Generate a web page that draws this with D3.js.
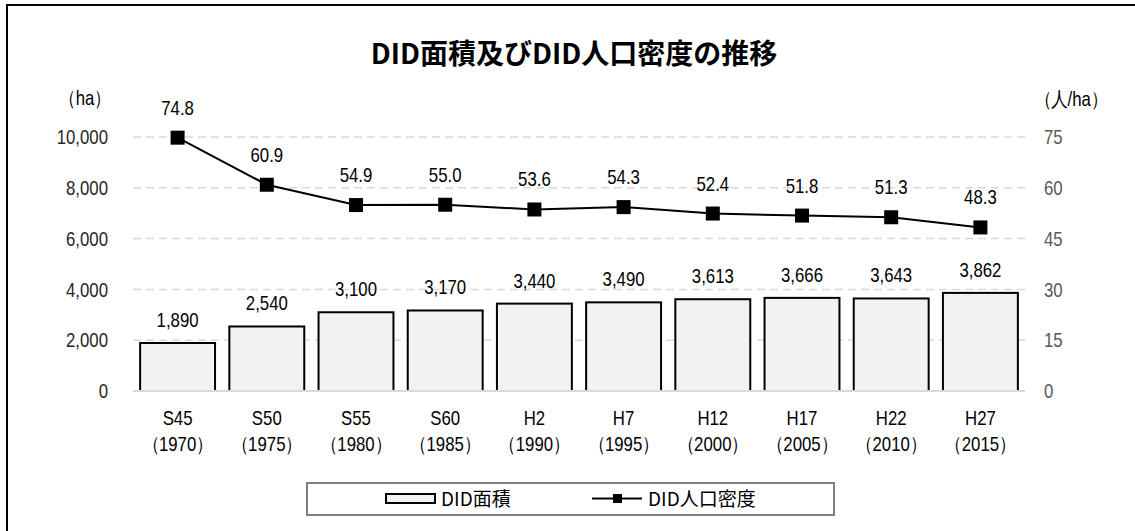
<!DOCTYPE html>
<html>
<head>
<meta charset="utf-8">
<script src="https://cdn.jsdelivr.net/npm/d3@7"></script>
<style>
  body { margin: 0; background: #fff; }
  svg { display: block; }
  .num { font-family: "Liberation Sans", Arial, sans-serif; }
  .jp { font-family: "Noto Sans CJK JP", sans-serif; }
</style>
</head>
<body>
<svg id="chart" width="1135" height="531"></svg>
<script>
'use strict';

// --- data ---
const eras = ['S45', 'S50', 'S55', 'S60', 'H2', 'H7', 'H12', 'H17', 'H22', 'H27'];
const years = ['1970', '1975', '1980', '1985', '1990', '1995', '2000', '2005', '2010', '2015'];
const areaValues = [1890, 2540, 3100, 3170, 3440, 3490, 3613, 3666, 3643, 3862];
const densityValues = [74.8, 60.9, 54.9, 55.0, 53.6, 54.3, 52.4, 51.8, 51.3, 48.3];
const leftTicks = [0, 2000, 4000, 6000, 8000, 10000];
const rightTicks = [0, 15, 30, 45, 60, 75];

const titleText = 'DID面積及びDID人口密度の推移';
const areaName = 'DID面積';
const densityName = 'DID人口密度';

const svg = d3.select('#chart');

// the reference font is narrow, so squeeze the latin text horizontally
const NARROW = 0.84;
const squeeze = (px, py) => `translate(${px},${py}) scale(${NARROW},1)`;

// outer frame (right and bottom edges sit outside the picture)
svg.append('rect')
  .attr('x', 7).attr('y', 5)
  .attr('width', 1160).attr('height', 560)
  .attr('fill', 'none').attr('stroke', '#000').attr('stroke-width', 2);

const plot = { left: 133, right: 1025, top: 137, bottom: 391 };

const x = d3.scaleBand()
  .domain(eras)
  .range([plot.left, plot.right])
  .paddingInner(0.16)
  .paddingOuter(0.08);

const yLeft = d3.scaleLinear().domain([0, 10000]).range([plot.bottom, plot.top]);
const yRight = d3.scaleLinear().domain([0, 75]).range([plot.bottom, plot.top]);
const cx = (d, i) => x(eras[i]) + x.bandwidth() / 2;

// gridlines
svg.append('g')
  .selectAll('line')
  .data(leftTicks.filter(d => d > 0))
  .enter()
  .append('line')
  .attr('x1', plot.left).attr('x2', plot.right)
  .attr('y1', d => yLeft(d)).attr('y2', d => yLeft(d))
  .attr('stroke', '#d9d9d9')
  .attr('stroke-width', 1.5)
  .attr('stroke-dasharray', '8,5');

// bars
svg.append('g')
  .selectAll('rect')
  .data(areaValues)
  .enter()
  .append('rect')
  .attr('x', (d, i) => x(eras[i]))
  .attr('y', d => yLeft(d))
  .attr('width', x.bandwidth())
  .attr('height', d => yLeft(0) - yLeft(d))
  .attr('fill', '#f2f2f2')
  .attr('stroke', '#000')
  .attr('stroke-width', 2);

// baseline
svg.append('line')
  .attr('x1', plot.left).attr('x2', plot.right)
  .attr('y1', yLeft(0)).attr('y2', yLeft(0))
  .attr('stroke', '#d9d9d9').attr('stroke-width', 2);

// bar labels
svg.append('g')
  .selectAll('text')
  .data(areaValues)
  .enter()
  .append('text')
  .attr('class', 'num')
  .attr('transform', (d, i) => squeeze(cx(d, i), yLeft(d) - 16))
  .attr('text-anchor', 'middle')
  .attr('font-size', 20)
  .attr('fill', '#000')
  .text(d => d3.format(',')(d));

// density line
const line = d3.line()
  .x((d, i) => cx(d, i))
  .y(d => yRight(d));

svg.append('path')
  .datum(densityValues)
  .attr('d', line)
  .attr('fill', 'none')
  .attr('stroke', '#000')
  .attr('stroke-width', 2);

svg.append('g')
  .selectAll('rect')
  .data(densityValues)
  .enter()
  .append('rect')
  .attr('x', (d, i) => cx(d, i) - 7)
  .attr('y', d => yRight(d) - 7)
  .attr('width', 14).attr('height', 14)
  .attr('fill', '#000');

svg.append('g')
  .selectAll('text')
  .data(densityValues)
  .enter()
  .append('text')
  .attr('class', 'num')
  .attr('transform', (d, i) => squeeze(cx(d, i), yRight(d) - 23))
  .attr('text-anchor', 'middle')
  .attr('font-size', 20)
  .attr('fill', '#000')
  .text(d => d.toFixed(1));

// left axis
svg.append('g')
  .selectAll('text')
  .data(leftTicks)
  .enter()
  .append('text')
  .attr('class', 'num')
  .attr('transform', d => squeeze(108, yLeft(d)))
  .attr('dy', '0.36em')
  .attr('text-anchor', 'end')
  .attr('font-size', 20)
  .attr('fill', '#262626')
  .text(d => d3.format(',')(d));

// right axis
svg.append('g')
  .selectAll('text')
  .data(rightTicks)
  .enter()
  .append('text')
  .attr('class', 'num')
  .attr('transform', d => squeeze(1044, yRight(d)))
  .attr('dy', '0.36em')
  .attr('text-anchor', 'start')
  .attr('font-size', 20)
  .attr('fill', '#595959')
  .text(d => d);

// category labels
const cat = svg.append('g')
  .selectAll('text')
  .data(eras)
  .enter()
  .append('text')
  .attr('class', 'num')
  .attr('transform', (d, i) => squeeze(cx(d, i), 0))
  .attr('text-anchor', 'middle')
  .attr('font-size', 20)
  .attr('fill', '#000');

cat.append('tspan')
  .attr('x', 0)
  .attr('y', 425)
  .text(d => d);

cat.append('tspan')
  .attr('x', 0)
  .attr('y', 451)
  .text((d, i) => '（' + years[i] + '）');

// unit labels
svg.append('text')
  .attr('class', 'num')
  .attr('transform', squeeze(85, 105))
  .attr('text-anchor', 'middle')
  .attr('font-size', 20)
  .attr('fill', '#000')
  .text('（ha）');

svg.append('text')
  .attr('class', 'num')
  .attr('transform', squeeze(1071, 106))
  .attr('text-anchor', 'middle')
  .attr('font-size', 20)
  .attr('fill', '#000')
  .text('（人/ha）');

// title
svg.append('text')
  .attr('class', 'jp')
  .attr('x', 574).attr('y', 64)
  .attr('text-anchor', 'middle')
  .attr('font-size', 28)
  .attr('font-weight', 'bold')
  .attr('fill', '#000')
  .text(titleText);

// legend
const legend = svg.append('g');
legend.append('rect')
  .attr('x', 307).attr('y', 483)
  .attr('width', 527).attr('height', 32)
  .attr('fill', '#fff')
  .attr('stroke', '#7f7f7f')
  .attr('stroke-width', 2);

legend.append('rect')
  .attr('x', 386).attr('y', 494)
  .attr('width', 49).attr('height', 9)
  .attr('fill', '#f2f2f2')
  .attr('stroke', '#000')
  .attr('stroke-width', 2);

legend.append('text')
  .attr('class', 'jp')
  .attr('x', 441).attr('y', 506)
  .attr('font-size', 19)
  .attr('fill', '#000')
  .text(areaName);

legend.append('line')
  .attr('x1', 592).attr('x2', 642)
  .attr('y1', 498.5).attr('y2', 498.5)
  .attr('stroke', '#000').attr('stroke-width', 2);

legend.append('rect')
  .attr('x', 613).attr('y', 494)
  .attr('width', 9).attr('height', 9)
  .attr('fill', '#000');

legend.append('text')
  .attr('class', 'jp')
  .attr('x', 648).attr('y', 506)
  .attr('font-size', 19)
  .attr('fill', '#000')
  .text(densityName);
</script>
</body>
</html>
